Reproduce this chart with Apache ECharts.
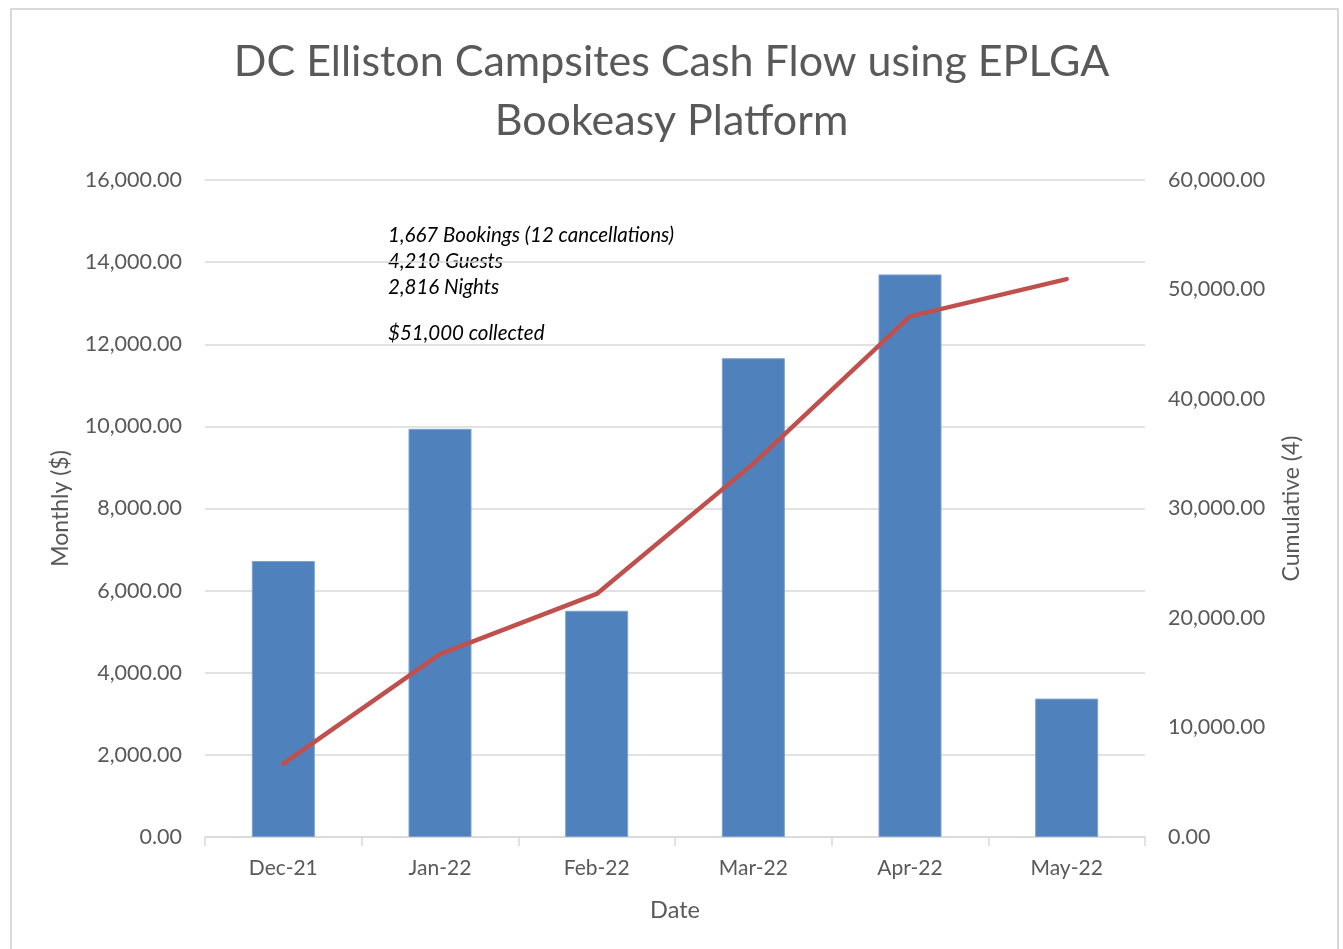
<!DOCTYPE html>
<html>
<head>
<meta charset="utf-8">
<script src="https://cdn.jsdelivr.net/npm/echarts@6/dist/echarts.min.js"></script>
<style>
html,body{margin:0;padding:0;background:#fff;}
#chart{width:1343px;height:949px;}
</style>
</head>
<body>
<div id="chart"></div>
<script>
const categories = ['Dec-21', 'Jan-22', 'Feb-22', 'Mar-22', 'Apr-22', 'May-22'];
const monthly = [6720, 9940, 5510, 11660, 13700, 3370];
const cumulative = [6700, 16700, 22200, 34100, 47550, 50950];
const leftTicks = { min: 0, max: 16000, interval: 2000 };
const rightTicks = { min: 0, max: 60000, interval: 10000 };
const notes = ['1,667 Bookings (12 cancellations)', '4,210 Guests', '2,816 Nights', '', '$51,000 collected'];

const FONT = 'Lato, "Open Sans", sans-serif';
const GREY = '#595959';
const fmt = v => v.toLocaleString('en-US', { minimumFractionDigits: 2, maximumFractionDigits: 2 });

const chart = echarts.init(document.getElementById('chart'), null, { renderer: 'canvas' });
chart.setOption({
  backgroundColor: '#fff',
  animation: false,
  textStyle: { fontFamily: FONT },
  title: {
    text: 'DC Elliston Campsites Cash Flow using EPLGA\nBookeasy Platform',
    left: 'center',
    top: 28,
    textStyle: { fontFamily: FONT, fontSize: 43, fontWeight: 'normal', color: GREY, lineHeight: 59 }
  },
  graphic: [
    { type: 'rect', shape: { x: 11, y: 9, width: 1327, height: 960 }, style: { fill: 'none', stroke: '#d9d9d9', lineWidth: 2 }, silent: true },
    {
      type: 'text', left: 388, top: 222,
      style: { text: notes.slice(0, 3).join('\n'), font: 'italic 20.5px ' + FONT, fill: '#000', lineHeight: 26 }
    },
    {
      type: 'text', left: 388, top: 320,
      style: { text: notes[4], font: 'italic 20.5px ' + FONT, fill: '#000', lineHeight: 26 }
    }
  ],
  grid: { left: 205, right: 198, top: 180, bottom: 112, containLabel: false },
  xAxis: {
    type: 'category',
    data: categories,
    name: 'Date',
    nameLocation: 'middle',
    nameGap: 61,
    nameTextStyle: { fontFamily: FONT, fontSize: 23.5, color: GREY },
    axisLine: { lineStyle: { color: '#d9d9d9', width: 1.5 } },
    axisTick: { show: true, alignWithLabel: false, length: 9, lineStyle: { color: '#d9d9d9', width: 1.5 } },
    axisLabel: { fontFamily: FONT, fontSize: 21, color: GREY, margin: 21 }
  },
  yAxis: [
    {
      type: 'value',
      min: leftTicks.min, max: leftTicks.max, interval: leftTicks.interval,
      name: 'Monthly ($)',
      nameLocation: 'middle',
      nameGap: 133,
      nameRotate: 90,
      nameTextStyle: { fontFamily: FONT, fontSize: 23, color: GREY },
      axisLine: { show: false },
      axisTick: { show: false },
      axisLabel: { fontFamily: FONT, fontSize: 21.5, color: GREY, margin: 23, formatter: fmt },
      splitLine: { lineStyle: { color: '#d9d9d9', width: 1.5 } }
    },
    {
      type: 'value',
      min: rightTicks.min, max: rightTicks.max, interval: rightTicks.interval,
      name: 'Cumulative (4)',
      nameLocation: 'middle',
      nameGap: 135,
      nameRotate: 90,
      nameTextStyle: { fontFamily: FONT, fontSize: 23, color: GREY },
      axisLine: { show: false },
      axisTick: { show: false },
      axisLabel: { fontFamily: FONT, fontSize: 21.5, color: GREY, margin: 23, formatter: fmt },
      splitLine: { show: false }
    }
  ],
  series: [
    {
      type: 'bar',
      name: 'Monthly',
      data: monthly,
      yAxisIndex: 0,
      barWidth: 63,
      itemStyle: { color: '#4F81BD', borderColor: '#7ea1d0', borderWidth: 1 }
    },
    {
      type: 'line',
      name: 'Cumulative',
      data: cumulative,
      yAxisIndex: 1,
      symbol: 'none',
      lineStyle: { color: '#C0504D', width: 4.5, cap: 'round', join: 'round' },
      z: 5
    }
  ]
});
</script>
</body>
</html>
